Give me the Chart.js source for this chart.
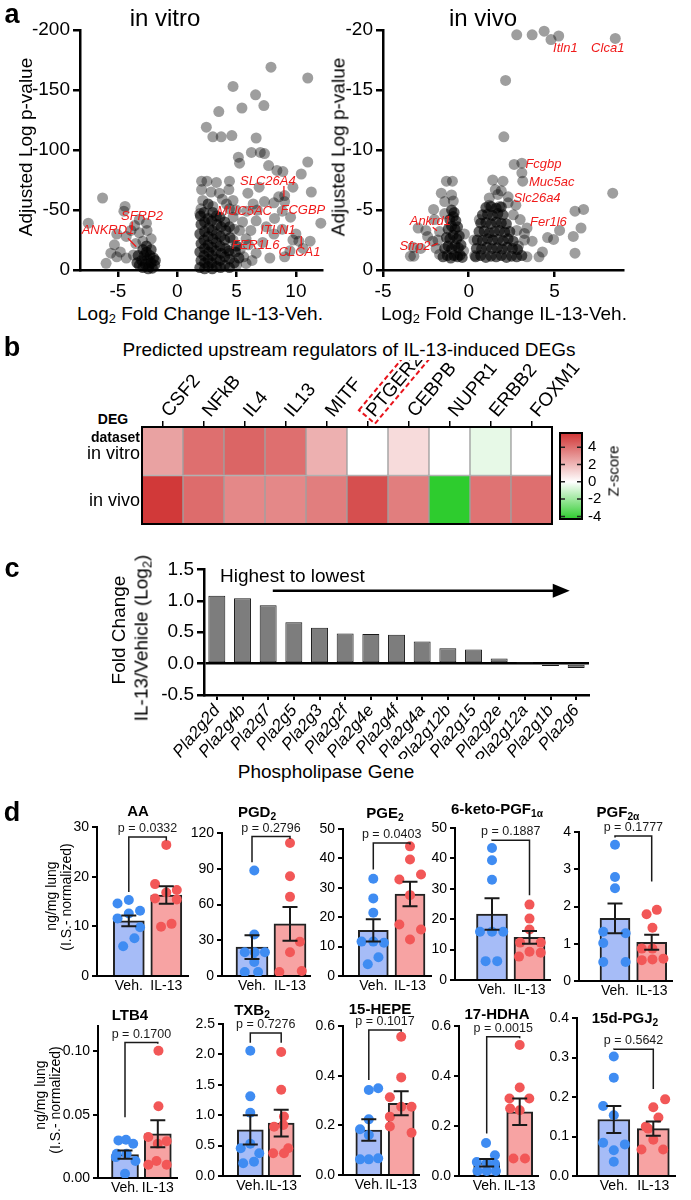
<!DOCTYPE html>
<html>
<head>
<meta charset="utf-8">
<script src="https://cdn.jsdelivr.net/npm/chart.js@4.4.1/dist/chart.umd.min.js"></script>
<style>
  body { margin: 0; background: #fff; }
  #fig { position: relative; width: 691px; height: 1200px; overflow: hidden;
         font-family: 'Liberation Sans', Arial, Helvetica, sans-serif; color: #000; }
  .t { position: absolute; white-space: nowrap; line-height: 1; }
  sub { font-size: 0.68em; vertical-align: -0.3em; line-height: 0; }
</style>
</head>
<body>
<div id="fig"></div>
<script>
// ---------- panel a : volcano plots ----------
const vitroXTicks = [-5, 0, 5, 10];
const vitroYTicks = [-200, -150, -100, -50, 0];
const vivoXTicks = [-5, 0, 5];
const vivoYTicks = [-20, -15, -10, -5, 0];

// scattered genes (light grey)
const vitroSparse = [
  [-7.5,-39],[-6.3,-60],[-6.0,-5.6],[-5.1,-30],[-4.4,-53],[-4.5,-49],[-5.3,-21],[-4.8,-15],[-4.3,-28],
  [-3.9,-33],[-3.6,-37],[-3.2,-42],[-3.2,-31],[-2.6,-39],[-2.55,-33],[-2.2,-26],[-4.3,-10],[-3.7,-12.5],
  [-5.1,-11],[-5.6,-14],[-3.5,-22],[-2.9,-24],
  [7.9,-169],[11.0,-160],[4.7,-153],[6.6,-146],[5.45,-135],[7.3,-137],[3.5,-132],[2.45,-119],[3.0,-111],
  [3.7,-111],[4.6,-112],[6.65,-110],[7.0,-98],[7.35,-97],[6.25,-98],[5.15,-94],[5.25,-89],[7.7,-87],
  [8.4,-83],[8.9,-82],[10.45,-80],[11.0,-90],[11.3,-65],[12.1,-39],[9.75,-69],[9.05,-62],[9.05,-57],
  [8.55,-61],[8.15,-56],[7.35,-57],[6.9,-69],[5.95,-64],[6.4,-55],[5.85,-49],[8.2,-43],[8.85,-49],
  [9.55,-44],[6.75,-50],[6.65,-41],[7.5,-36],[8.85,-34],[8.15,-30],[10.0,-30],[9.75,-25],[10.25,-24],
  [11.2,-24],[10.6,-18],[9.5,-16],[9.05,-11],[7.2,-23],[7.8,-10],[6.65,-14],[5.8,-26],[5.25,-33],
  [4.7,-25],[4.4,-14],[5.0,-4],[5.8,-5.5],[4.15,-55],[4.7,-44],[4.95,-50],
  [2.05,-74],[2.5,-74],[3.3,-73],[4.4,-74],[4.35,-67],[2.05,-67],[2.85,-65],[3.55,-64],[2.15,-58],
  [3.8,-59],[4.7,-58],[4.4,-51],[2.0,-51],[3.0,-53],[1.9,-47],[5.5,-40],[6.2,-33],[5.3,-17],[6.0,-21],
  [4.8,-34],[5.6,-11],[6.3,-8]
];
// dense clusters (darker)
const vitroDense = [
  [-3.2,-4],[-3.0,-8],[-2.9,-2],[-2.8,-12],[-2.7,-5],[-2.6,-15],[-2.5,-9],[-2.4,-3],[-2.3,-12],[-2.2,-6],
  [-2.1,-1.5],[-2.0,-10],[-1.9,-4],[-2.6,-20],[-2.9,-17],[-3.3,-12],[-2.2,-17],[-3.4,-6],[-2.45,-1],[-1.85,-8],
  [1.9,-2],[2.0,-8],[1.9,-15],[2.0,-22],[1.9,-30],[2.0,-38],[1.95,-45],
  [2.3,-1],[2.3,-6],[2.25,-12],[2.3,-18],[2.25,-25],[2.3,-32],[2.3,-40],[2.25,-48],
  [2.6,-3],[2.6,-9],[2.65,-15],[2.6,-21],[2.6,-28],[2.65,-35],[2.6,-43],[2.6,-55],
  [2.95,-1],[2.9,-6],[2.95,-12],[2.9,-19],[3.0,-26],[2.95,-33],[2.9,-41],[3.0,-48],
  [3.3,-3],[3.3,-9],[3.25,-16],[3.3,-23],[3.3,-30],[3.35,-38],[3.3,-45],
  [3.65,-2],[3.6,-8],[3.7,-14],[3.6,-20],[3.65,-28],[3.7,-36],[3.6,-44],
  [4.0,-4],[4.0,-11],[4.05,-18],[4.0,-25],[4.1,-33],[4.0,-40],
  [4.4,-2],[4.4,-9],[4.35,-16],[4.45,-27],[4.4,-36],
  [4.8,-6],[4.9,-15],[5.2,-10],[5.0,-20]
];
const vivoSparse = [
  [2.8,-19.6],[3.7,-19.6],[4.4,-19.9],[4.8,-19.2],[5.25,-19.5],[8.55,-19.3],[2.15,-15.8],[2.05,-11.1],
  [2.65,-8.8],[3.1,-8.9],[3.1,-8.1],[3.15,-7.4],[8.4,-6.4],[6.2,-4.9],[6.7,-5.05],[5.3,-3.3],[6.55,-3.5],
  [6.1,-2.8],[4.6,-2.7],[4.95,-2.55],[3.7,-2.4],[3.4,-3.5],[4.3,-1.5],[4.1,-1.1],[6.2,-1.4],[2.75,-5.4],
  [2.3,-6.1],[2.0,-7.4],[1.4,-7.5],[1.55,-6.7],[1.7,-6.3],[2.3,-5.6],[2.8,-3.3],[3.25,-3.05],[3.25,-2.5],
  [3.4,-1.1],[0.62,-4.2],[1.2,-6.0],[1.9,-6.6],
  [-1.3,-7.4],[-0.95,-7.4],[-1.6,-6.4],[-1.0,-6.25],[-1.4,-5.7],[-0.9,-5.75],[-2.05,-5.05],[-2.5,-3.3],
  [-2.95,-3.5],[-2.4,-2.8],[-3.25,-1.9],[-3.4,-1.15],[-3.2,-1.15],[-2.8,-1.8],[-2.1,-2.4],[-1.8,-2.5],
  [-1.7,-3.2],[-2.0,-4.2],[-1.4,-4.7],[-1.7,-1.3],[-1.9,-1.8],[-0.3,-1.6],[-0.25,-3.0],[0.3,-2.5],
  [0.35,-1.2],[2.9,-2.0],[3.0,-4.2],[2.6,-4.6],[1.2,-5.4],[1.8,-5.3]
];
const vivoDense = [
  [-1.5,-1.1],[-1.25,-1.2],[-1.05,-1.0],[-0.85,-1.2],[-0.65,-1.1],[-0.5,-1.25],[-0.38,-1.05],
  [-1.4,-1.8],[-1.2,-2.0],[-1.0,-1.75],[-0.8,-2.05],[-0.6,-1.85],[-0.45,-2.1],
  [-1.3,-2.7],[-1.1,-2.6],[-0.9,-2.9],[-0.7,-2.6],[-0.55,-2.85],
  [-1.2,-3.4],[-1.0,-3.65],[-0.8,-3.4],[-0.65,-3.6],
  [-1.1,-4.2],[-0.9,-4.45],[-0.75,-4.1],[-1.0,-5.0],[-0.85,-4.8],
  [0.4,-1.1],[0.7,-1.2],[1.0,-1.05],[1.3,-1.15],[1.6,-1.1],[1.9,-1.2],[2.2,-1.05],[2.5,-1.15],[2.8,-1.1],[3.1,-1.2],
  [0.45,-1.8],[0.75,-1.75],[1.05,-1.9],[1.35,-1.8],[1.65,-1.85],[1.95,-1.75],[2.25,-1.9],[2.55,-1.8],[2.85,-1.7],
  [0.5,-2.5],[0.8,-2.45],[1.1,-2.6],[1.4,-2.5],[1.7,-2.55],[2.0,-2.45],[2.3,-2.6],[2.6,-2.4],
  [0.6,-3.2],[0.9,-3.25],[1.2,-3.1],[1.5,-3.2],[1.8,-3.3],[2.1,-3.15],[2.4,-3.2],
  [0.7,-3.9],[1.0,-3.95],[1.3,-3.85],[1.6,-4.0],[1.9,-3.9],[2.2,-3.85],
  [0.8,-4.6],[1.1,-4.65],[1.4,-4.55],[1.7,-4.7],[2.0,-4.6],
  [1.0,-5.2],[1.3,-5.3],[1.6,-5.15],[1.9,-5.25]
];
// highlighted genes: [name, x, y] and leader lines [x1, y1, x2, y2]
const vitroGenes = [['SFRP2',-2.98,-45],['ANKRD1',-5.84,-33.3],['SLC26A4',7.64,-73.6],['MUC5AC',5.67,-48.6],
  ['FCGBP',10.59,-50],['ITLN1',8.48,-33.3],['FER1L6',6.6,-20.8],['CLCA1',10.3,-14.4]];
const vitroLeaders = [[-3.8,-40.3,-3.8,-33.3],[-4.16,-26.4,-3.46,-19.4],[8.99,-70,8.99,-61],[10.45,-28.3,10.45,-18.9]];
const vivoGenes = [['Itln1',5.64,-18.5],['Clca1',8.11,-18.5],['Fcgbp',4.36,-8.83],['Muc5ac',4.84,-7.3],
  ['Slc26a4',3.99,-5.97],['Fer1l6',4.65,-3.97],['Ankrd1',-2.24,-4.08],['Sfrp2',-3.13,-1.94]];
const vivoLeaders = [[-2.1,-3.56,-1.85,-3.28],[-2.16,-2.0,-1.8,-2.22]];

// ---------- panel b : upstream regulators heatmap ----------
const regulators = ['CSF2','NFkB','IL4','IL13','MITF','PTGER2','CEBPB','NUPR1','ERBB2','FOXM1'];
const vitroZ = [2.6, 4.0, 4.3, 4.0, 2.2, 0, 1.0, 0, -0.5, 0];
const vivoZ  = [5.5, 4.1, 3.3, 3.3, 3.6, 4.9, 3.6, -4.3, 3.9, 4.0];
const zTicks = [-4, -2, 0, 2, 4];
const zMin = -4.3, zMax = 5.65;

// ---------- panel c : phospholipase genes ----------
const plaGenes = ['Pla2g2d','Pla2g4b','Pla2g7','Pla2g5','Pla2g3','Pla2g2f','Pla2g4e','Pla2g4f','Pla2g4a',
  'Pla2g12b','Pla2g15','Pla2g2e','Pla2g12a','Pla2g1b','Pla2g6'];
const plaFold = [1.08, 1.04, 0.93, 0.66, 0.57, 0.48, 0.47, 0.46, 0.35, 0.245, 0.225, 0.08, 0.003, -0.04, -0.07];
const plaTicks = [-0.5, 0, 0.5, 1.0, 1.5];

// ---------- panel d : lipid mediators ----------
const mediators = ['AA','PGD<sub>2</sub>','PGE<sub>2</sub>','6-keto-PGF<sub>1α</sub>','PGF<sub>2α</sub>',
  'LTB4','TXB<sub>2</sub>','15-HEPE','17-HDHA','15d-PGJ<sub>2</sub>'];
const pValues = ['0.0332','0.2796','0.0403','0.1887','0.1777','0.1700','0.7276','0.1017','0.0015','0.5642'];
const vehMean = [11.1, 24.3, 15.5, 21.7, 1.68, 0.0184, 0.76, 0.181, 0.053, 0.143];
const vehSem  = [1.1, 10, 3.8, 5.2, 0.4, 0.0033, 0.24, 0.043, 0.015, 0.034];
const ilMean  = [16.3, 43.8, 27.9, 14.0, 1.04, 0.0349, 0.87, 0.289, 0.257, 0.120];
const ilSem   = [1.75, 14.2, 4.2, 2.1, 0.2, 0.0107, 0.22, 0.048, 0.053, 0.018];
// individual animals: [x jitter, value]
const vehDots = [
  [[-0.3,14.6],[0,15.3],[0.3,13.15],[-0.3,11.6],[0,12.6],[0.3,9.8],[0.15,7.6],[-0.15,6.0]],
  [[0.06,88.5],[0.06,34.9],[-0.19,20],[0.07,20],[0.34,20],[0.06,11.7],[-0.19,3.3],[0.16,3.3]],
  [[0,33.1],[0,26.4],[0,21.5],[-0.32,11.7],[0,11.7],[0.29,11.3],[0.14,6.4],[-0.15,4.0]],
  [[0,43.4],[0,39.4],[0,33.0],[-0.32,15.9],[0,15.9],[0.3,15.9],[-0.17,6.2],[0.14,6.2]],
  [[0,3.66],[0,2.79],[0,2.49],[-0.32,1.32],[0.29,1.28],[-0.32,1.02],[-0.32,0.51],[0.29,0.51]],
  [[-0.2,0.0297],[0.03,0.0302],[0.25,0.027],[-0.25,0.0192],[0.05,0.0192],[0.32,0.0134],[-0.28,0.0165],[0,0.0034]],
  [[0,2.06],[0,1.31],[0,1.04],[-0.31,0.456],[0.29,0.374],[0,0.53],[0.12,0.236],[-0.23,0.209]],
  [[0,0.342],[0.29,0.349],[0,0.224],[-0.27,0.184],[0,0.161],[-0.27,0.063],[0,0.063],[0.29,0.067]],
  [[-0.02,0.132],[0.25,0.083],[-0.3,0.056],[0,0.052],[-0.28,0.02],[0,0.02],[0.28,0.02],[0.25,0.049]],
  [[0,0.3025],[0,0.249],[-0.27,0.177],[0,0.154],[-0.27,0.084],[0.28,0.08],[0,0.065],[0,0.036]]
];
const ilDots = [
  [[0,26.4],[-0.3,18.5],[0,16.8],[0.28,17.3],[-0.3,15.6],[0.28,15.4],[-0.14,9.9],[0.14,10.5]],
  [[0,111.6],[0,83.7],[0,66.4],[0.26,28.7],[0,20],[-0.28,3.3],[0.31,4.2]],
  [[0,44.1],[0,39.6],[-0.29,32.8],[0.3,34.5],[0,27.5],[-0.29,17.5],[0.3,15.8],[0,12.4]],
  [[0,24.8],[0,20.2],[0,16.6],[-0.25,12.3],[0.3,12.3],[-0.28,7.7],[0,9.3],[0.3,9.0]],
  [[0.14,1.91],[-0.14,1.79],[0.02,1.43],[-0.27,0.87],[-0.27,0.56],[0.32,0.6],[0.02,0.58],[0.02,0.87]],
  [[0.02,0.1005],[0.02,0.0567],[0.27,0.0291],[-0.29,0.0323],[0,0.027],[-0.04,0.0134],[-0.29,0.0105],[0.27,0.0105]],
  [[0,2.04],[0,1.42],[0.09,0.98],[0.07,0.84],[0.23,0.456],[-0.26,0.374],[0.09,0.374],[-0.23,0.81]],
  [[0,0.557],[0,0.393],[-0.35,0.313],[0.32,0.275],[0,0.275],[-0.35,0.235],[-0.35,0.195],[0.32,0.17]],
  [[0,0.524],[0,0.354],[-0.31,0.31],[0.29,0.31],[0,0.263],[-0.29,0.27],[-0.19,0.07],[0.16,0.07]],
  [[0.3,0.194],[0,0.174],[0.13,0.148],[0,0.092],[-0.3,0.067],[0.25,0.067],[-0.13,0.12],[-0.19,0.125]]
];
const yMax = [30, 120, 50, 50, 4, 0.12, 2.5, 0.6, 0.6, 0.4];
const yTickVals = [
  [0,10,20,30],[0,30,60,90,120],[0,10,20,30,40,50],[0,10,20,30,40,50],[0,1,2,3,4],
  [0,0.05,0.10],[0,0.5,1.0,1.5,2.0,2.5],[0,0.2,0.4,0.6],[0,0.2,0.4,0.6],[0,0.1,0.2,0.3,0.4]
];
const yDecimals = [0, 0, 0, 0, 0, 2, 1, 1, 1, 1];
// significance brackets: [top, Veh leg end, IL-13 leg end]
const brackets = [[28.0,16.9,27.3],[117,95.5,115],[45.2,36.2,44.7],[46,45.8,27.9],[3.89,3.85,2.67],
  [0.107,0.048,0.106],[2.35,2.19,2.19],[0.584,0.383,0.577],[0.557,0.17,0.551],[0.321,0.32,0.22]];

// ---------- layout (pixels) ----------
const dLayout = [
  { axisX: 97,  top: 827,  bottom: 976,  vehC: 128.8, ilC: 166.3, barW: 31, right: 188 },
  { axisX: 222, top: 833,  bottom: 976,  vehC: 252,   ilC: 290,   barW: 32, right: 310 },
  { axisX: 343, top: 829,  bottom: 976,  vehC: 373.3, ilC: 410,   barW: 30, right: 431 },
  { axisX: 455, top: 828,  bottom: 980,  vehC: 492,   ilC: 529.5, barW: 31, right: 550 },
  { axisX: 579, top: 832,  bottom: 981,  vehC: 615,   ilC: 651.7, barW: 30, right: 672 },
  { axisX: 98,  top: 1026, bottom: 1178, vehC: 125,   ilC: 157.8, barW: 27, right: 177 },
  { axisX: 223, top: 1024, bottom: 1176, vehC: 250.3, ilC: 281.2, barW: 26, right: 300 },
  { axisX: 343, top: 1026, bottom: 1175, vehC: 368.8, ilC: 401.2, barW: 26, right: 419 },
  { axisX: 459, top: 1026, bottom: 1176, vehC: 486.7, ilC: 519.7, barW: 26, right: 538 },
  { axisX: 577, top: 1018, bottom: 1176, vehC: 613.8, ilC: 653.3, barW: 32, right: 675 }
];
const dTitlePos = [[138,810],[257,811],[385,812],[497,808],[618,811],[130,1014],[252,1009],[380,1008],[497,1013],[625,1017]];

const FONT = "'Liberation Sans', Arial, Helvetica, sans-serif";
Chart.defaults.font.family = FONT;
Chart.defaults.color = '#000';
Chart.defaults.animation = false;
Chart.defaults.plugins.legend.display = false;
Chart.defaults.plugins.tooltip.enabled = false;

const fig = document.getElementById('fig');

function canvasAt(left, top, w, h) {
  const c = document.createElement('canvas');
  c.width = w; c.height = h;
  c.style.cssText = `position:absolute;left:${left}px;top:${top}px;width:${w}px;height:${h}px;`;
  fig.appendChild(c);
  return c;
}

function text(html, x, y, size, opt = {}) {
  const d = document.createElement('div');
  d.className = 't';
  d.innerHTML = html;
  const tx = opt.align === 'left' ? '0' : opt.align === 'right' ? '-100%' : '-50%';
  d.style.left = x + 'px';
  d.style.top = y + 'px';
  d.style.fontSize = size + 'px';
  if (opt.bold) d.style.fontWeight = 'bold';
  if (opt.italic) d.style.fontStyle = 'italic';
  d.style.transform = `translate(${tx},-50%) rotate(${opt.rot || 0}deg)`;
  fig.appendChild(d);
}

// common linear axis in GraphPad style
function linAxis(min, max, ticks, size, fit, fmt, lw = 2.5, tl = 7) {
  return {
    type: 'linear', min, max,
    afterBuildTicks: s => { s.ticks = ticks.map(v => ({ value: v })); },
    afterFit: fit,
    ticks: { font: { size }, color: '#000', padding: 3, autoSkip: false, maxRotation: 0,
             callback: fmt || (v => String(v)) },
    grid: { drawOnChartArea: false, color: '#000', lineWidth: lw, tickLength: tl },
    border: { color: '#000', width: lw }
  };
}

// === panel a ===
function geneLabels(genes, leaders) {
  return {
    id: 'genes',
    afterDatasetsDraw(chart) {
      const { ctx, scales: { x, y } } = chart;
      ctx.save();
      ctx.fillStyle = ctx.strokeStyle = '#f01a1a';
      ctx.font = `italic 13px ${FONT}`;
      ctx.textAlign = 'center';
      ctx.textBaseline = 'middle';
      genes.forEach(([t, gx, gy]) => ctx.fillText(t, x.getPixelForValue(gx), y.getPixelForValue(gy)));
      ctx.lineWidth = 1.3;
      leaders.forEach(([x1, y1, x2, y2]) => {
        ctx.beginPath();
        ctx.moveTo(x.getPixelForValue(x1), y.getPixelForValue(y1));
        ctx.lineTo(x.getPixelForValue(x2), y.getPixelForValue(y2));
        ctx.stroke();
      });
      ctx.restore();
    }
  };
}

function volcano(left, w, axisW, xMin, xMax, xTicks, yMin, yTicks, sparse, dense, genes, leaders) {
  const c = canvasAt(left, 0, w, 300);
  new Chart(c, {
    type: 'scatter',
    data: {
      datasets: [
        { data: sparse.map(p => ({ x: p[0], y: p[1] })), backgroundColor: 'rgba(0,0,0,0.38)', pointRadius: 5.5, borderWidth: 0, clip: false },
        { data: dense.map(p => ({ x: p[0], y: p[1] })), backgroundColor: 'rgba(0,0,0,0.62)', pointRadius: 5.5, borderWidth: 0, clip: false }
      ]
    },
    options: {
      responsive: false,
      layout: { padding: { top: 30, right: 6, left: 0, bottom: 0 } },
      scales: {
        x: linAxis(xMin, xMax, xTicks, 19, s => { s.height = 30; }),
        y: Object.assign(linAxis(yMin, 0, yTicks, 19, s => { s.width = axisW; }), { reverse: true })
      }
    },
    plugins: [geneLabels(genes, leaders)]
  });
}

volcano(0, 328, 80, -8.2, 12.2, vitroXTicks, -200, vitroYTicks, vitroSparse, vitroDense, vitroGenes, vitroLeaders);
volcano(300, 329, 83, -5, 9, vivoXTicks, -20, vivoYTicks, vivoSparse, vivoDense, vivoGenes, vivoLeaders);

text('a', 12, 14, 27, { bold: true });
text('in vitro', 165, 18, 24);
text('in vivo', 483, 18, 24);
text('Adjusted Log p-value', 25, 147, 19, { rot: -90 });
text('Adjusted Log p-value', 338, 147, 19, { rot: -90 });
text('Log<sub>2</sub> Fold Change IL-13-Veh.', 200, 313, 19);
text('Log<sub>2</sub> Fold Change IL-13-Veh.', 504, 313, 19);

// === panel b ===
function mix(a, b, t) { return Math.round(a + (b - a) * t); }
function zColor(z) {
  if (z >= 0) {
    const t = Math.min(z / zMax, 1);
    return `rgb(${mix(255, 208, t)},${mix(255, 52, t)},${mix(255, 52, t)})`;
  }
  const t = Math.min(z / zMin, 1);
  return `rgb(${mix(255, 46, t)},${mix(255, 204, t)},${mix(255, 46, t)})`;
}

const LABEL_ANGLE = 50 * Math.PI / 180;
const heatDecor = {
  id: 'heatDecor',
  afterDraw(chart) {
    const { ctx, chartArea: a, scales: { x } } = chart;
    ctx.save();
    ctx.strokeStyle = '#000';
    ctx.lineWidth = 2;
    ctx.strokeRect(a.left, a.top, a.right - a.left, a.bottom - a.top);
    // rotated regulator names, PTGER2 in a dashed red box
    ctx.font = `19px ${FONT}`;
    ctx.fillStyle = '#000';
    ctx.textAlign = 'left';
    ctx.textBaseline = 'alphabetic';
    regulators.forEach((r, i) => {
      ctx.save();
      ctx.translate(x.getPixelForTick(i) + 7, a.top - 9);
      ctx.rotate(-LABEL_ANGLE);
      ctx.fillText(r, 0, 0);
      if (r === 'PTGER2') {
        const tw = ctx.measureText(r).width;
        ctx.setLineDash([5, 3]);
        ctx.strokeStyle = '#e8141c';
        ctx.lineWidth = 2;
        ctx.strokeRect(-4, -17, tw + 8, 21);
      }
      ctx.restore();
    });
    ctx.restore();
  }
};

new Chart(canvasAt(132, 360, 465, 166), {
  type: 'bar',
  data: {
    labels: regulators,
    datasets: [
      { data: regulators.map(() => [1, 2]), backgroundColor: vitroZ.map(zColor), grouped: false },
      { data: regulators.map(() => [0, 1]), backgroundColor: vivoZ.map(zColor), grouped: false }
    ]
  },
  options: {
    responsive: false,
    layout: { padding: { left: 10, right: 45, top: 0, bottom: 2 } },
    datasets: { bar: { barPercentage: 1, categoryPercentage: 1, borderColor: '#a0a0a0', borderWidth: 1, borderSkipped: false } },
    scales: {
      x: {
        position: 'top', offset: true,
        grid: { offset: false, drawOnChartArea: false, color: '#000', lineWidth: 1.5, tickLength: 6 },
        border: { display: false },
        ticks: { display: false },
        afterFit: s => { s.height = 67; }
      },
      y: { display: false, min: 0, max: 2 }
    }
  },
  plugins: [heatDecor]
});

// colour bar
const zeroFrac = (0 - zMin) / (zMax - zMin);
const cbDecor = {
  id: 'cbDecor',
  afterDraw(chart) {
    const { ctx, chartArea: a, scales: { y } } = chart;
    ctx.save();
    ctx.strokeStyle = '#222';
    ctx.lineWidth = 1.5;
    zTicks.forEach(v => {
      const py = y.getPixelForValue(v);
      ctx.beginPath();
      ctx.moveTo(a.left, py); ctx.lineTo(a.left + 5, py);
      ctx.moveTo(a.right - 5, py); ctx.lineTo(a.right, py);
      ctx.stroke();
    });
    ctx.lineWidth = 2;
    ctx.strokeStyle = '#000';
    ctx.strokeRect(a.left, a.top, a.right - a.left, a.bottom - a.top);
    ctx.restore();
  }
};
new Chart(canvasAt(540, 418, 70, 116), {
  type: 'bar',
  data: {
    labels: ['z'],
    datasets: [{
      data: [[zMin, zMax]],
      barPercentage: 1, categoryPercentage: 1, borderWidth: 0,
      backgroundColor: c => {
        const a = c.chart.chartArea;
        if (!a) return 'rgba(0,0,0,0)';
        const g = c.chart.ctx.createLinearGradient(0, a.bottom, 0, a.top);
        g.addColorStop(0, zColor(zMin));
        g.addColorStop(zeroFrac, '#fff');
        g.addColorStop(1, zColor(zMax));
        return g;
      }
    }]
  },
  options: {
    responsive: false,
    layout: { padding: { left: 20, top: 10, bottom: 10, right: 0 } },
    scales: {
      x: { display: false },
      y: {
        position: 'right', min: zMin, max: zMax,
        afterBuildTicks: s => { s.ticks = zTicks.map(v => ({ value: v })); },
        ticks: { font: { size: 15 }, padding: 6, color: '#000' },
        grid: { display: false, drawTicks: false }, border: { display: false },
        afterFit: s => { s.width = 28; }
      }
    }
  },
  plugins: [cbDecor]
});

text('b', 12, 347, 27, { bold: true });
text('Predicted upstream regulators of IL-13-induced DEGs', 349, 349, 19);
text('DEG', 113, 419, 14, { bold: true });
text('dataset', 140, 437, 14, { bold: true, align: 'right' });
text('in vitro', 140, 453, 18, { align: 'right' });
text('in vivo', 140, 500, 18, { align: 'right' });
text('Z-score', 613, 471, 15, { rot: -90 });

// === panel c ===
const arrowPlugin = {
  id: 'arrow',
  afterDraw(chart) {
    const { ctx, scales: { x, y } } = chart;
    const x1 = x.getPixelForValue(2.18), x2 = x.getPixelForValue(13.75), py = y.getPixelForValue(1.16);
    ctx.save();
    ctx.strokeStyle = ctx.fillStyle = '#000';
    ctx.lineWidth = 2.5;
    ctx.beginPath(); ctx.moveTo(x1, py); ctx.lineTo(x2 - 14, py); ctx.stroke();
    ctx.beginPath(); ctx.moveTo(x2, py); ctx.lineTo(x2 - 17, py - 7); ctx.lineTo(x2 - 17, py + 7); ctx.closePath(); ctx.fill();
    ctx.restore();
  }
};
new Chart(canvasAt(154, 555, 445, 204), {
  type: 'bar',
  data: {
    labels: plaGenes,
    datasets: [{ data: plaFold, backgroundColor: '#7d7d7d', borderColor: '#1a1a1a', borderWidth: 1,
                 borderSkipped: false, barPercentage: 0.66, categoryPercentage: 1 }]
  },
  options: {
    responsive: false,
    layout: { padding: { top: 12, right: 10, left: 0, bottom: 0 } },
    scales: {
      x: {
        offset: true,
        grid: { offset: false, drawOnChartArea: false, color: '#000', lineWidth: 2, tickLength: 5 },
        border: { color: '#000', width: 2.5 },
        ticks: { font: { size: 17, style: 'italic' }, minRotation: 50, maxRotation: 50, padding: 1, autoSkip: false, color: '#000' },
        afterFit: s => { s.height = 64; }
      },
      y: {
        min: -0.5, max: 1.5,
        afterBuildTicks: s => { s.ticks = plaTicks.map(v => ({ value: v })); },
        ticks: { font: { size: 19 }, padding: 3, color: '#000', callback: v => v.toFixed(1) },
        grid: { color: c => (c.tick && c.tick.value === 0 ? '#000' : 'rgba(0,0,0,0)'), tickColor: '#000', lineWidth: 2.5, tickLength: 7 },
        border: { color: '#000', width: 2.5 },
        afterFit: s => { s.width = 50; }
      }
    }
  },
  plugins: [arrowPlugin]
});

text('c', 12, 568, 27, { bold: true });
text('Highest to lowest', 220, 575, 19, { align: 'left' });
text('Fold Change', 118, 630, 19, { rot: -90 });
text('IL-13/Vehicle (Log<sub>2</sub>)', 141, 638, 19, { rot: -90 });
text('Phospholipase Gene', 326, 771, 19);

// === panel d ===
const vehBar = '#a6bcf7', ilBar = '#f7a3a3', vehDot = '#3f8cf2', ilDot = '#f25757';

function statsPlugin(i) {
  return {
    id: 'stats' + i,
    afterDatasetsDraw(chart) {
      const { ctx, scales: { x, y } } = chart;
      ctx.save();
      ctx.strokeStyle = ctx.fillStyle = '#1a1a1a';
      ctx.lineWidth = 2;
      [[1, vehMean[i], vehSem[i]], [2, ilMean[i], ilSem[i]]].forEach(([gx, m, s]) => {
        const px = x.getPixelForValue(gx);
        const hi = y.getPixelForValue(m + s), lo = y.getPixelForValue(m - s);
        ctx.beginPath();
        ctx.moveTo(px, hi); ctx.lineTo(px, lo);
        ctx.moveTo(px - 7.5, hi); ctx.lineTo(px + 7.5, hi);
        ctx.moveTo(px - 7.5, lo); ctx.lineTo(px + 7.5, lo);
        ctx.stroke();
      });
      const [top, vEnd, iEnd] = brackets[i];
      const x1 = x.getPixelForValue(1), x2 = x.getPixelForValue(2), yt = y.getPixelForValue(top);
      ctx.lineWidth = 1.5;
      ctx.beginPath();
      ctx.moveTo(x1, y.getPixelForValue(vEnd)); ctx.lineTo(x1, yt); ctx.lineTo(x2, yt); ctx.lineTo(x2, y.getPixelForValue(iEnd));
      ctx.stroke();
      ctx.font = `12.5px ${FONT}`;
      ctx.textAlign = 'center';
      ctx.textBaseline = 'bottom';
      ctx.fillText('p = ' + pValues[i], (x1 + x2) / 2, yt - 2);
      ctx.restore();
    }
  };
}

function mediatorChart(i) {
  const g = dLayout[i];
  const unit = g.ilC - g.vehC;
  const xMin = 1 - (g.vehC - g.axisX) / unit;
  const xMax = 2 + (g.right - g.ilC) / unit;
  const W = 45, PT = 24, XH = 24, PR = 8;
  const c = canvasAt(g.axisX - W, g.top - PT, W + (g.right - g.axisX) + PR, PT + (g.bottom - g.top) + XH);
  const dec = yDecimals[i];
  new Chart(c, {
    type: 'scatter',
    data: {
      datasets: [
        { type: 'bar', data: [{ x: 1, y: vehMean[i] }, { x: 2, y: ilMean[i] }], backgroundColor: [vehBar, ilBar],
          borderColor: '#222', borderWidth: 2, barThickness: g.barW, order: 2 },
        { data: vehDots[i].map(([dx, v]) => ({ x: 1 + dx, y: v })), backgroundColor: vehDot, pointRadius: 5, borderWidth: 0, order: 1 },
        { data: ilDots[i].map(([dx, v]) => ({ x: 2 + dx, y: v })), backgroundColor: ilDot, pointRadius: 5, borderWidth: 0, order: 1 }
      ]
    },
    options: {
      responsive: false,
      layout: { padding: { top: PT, right: PR, bottom: 0, left: 0 } },
      scales: {
        x: {
          type: 'linear', min: xMin, max: xMax, offset: false,
          afterBuildTicks: s => { s.ticks = [{ value: 1 }, { value: 2 }]; },
          ticks: { callback: v => (v === 1 ? 'Veh.' : 'IL-13'), font: { size: 14 }, padding: 2, maxRotation: 0, autoSkip: false, color: '#000' },
          grid: { display: false, drawTicks: false, tickLength: 0 },
          border: { color: '#000', width: 2 },
          afterFit: s => { s.height = XH; }
        },
        y: linAxis(0, yMax[i], yTickVals[i], 14, s => { s.width = W; }, v => v.toFixed(dec), 2, 5)
      }
    },
    plugins: [statsPlugin(i)]
  });
  text(`<b>${mediators[i]}</b>`, dTitlePos[i][0], dTitlePos[i][1], 15);
}

for (let i = 0; i < mediators.length; i++) mediatorChart(i);

text('d', 12, 812, 27, { bold: true });
text('ng/mg lung', 51, 896, 14, { rot: -90 });
text('(I.S.- normalized)', 66, 897, 14, { rot: -90 });
text('ng/mg lung', 40, 1095, 14, { rot: -90 });
text('(I.S.- normalized)', 55, 1100, 14, { rot: -90 });
</script>
</body>
</html>
